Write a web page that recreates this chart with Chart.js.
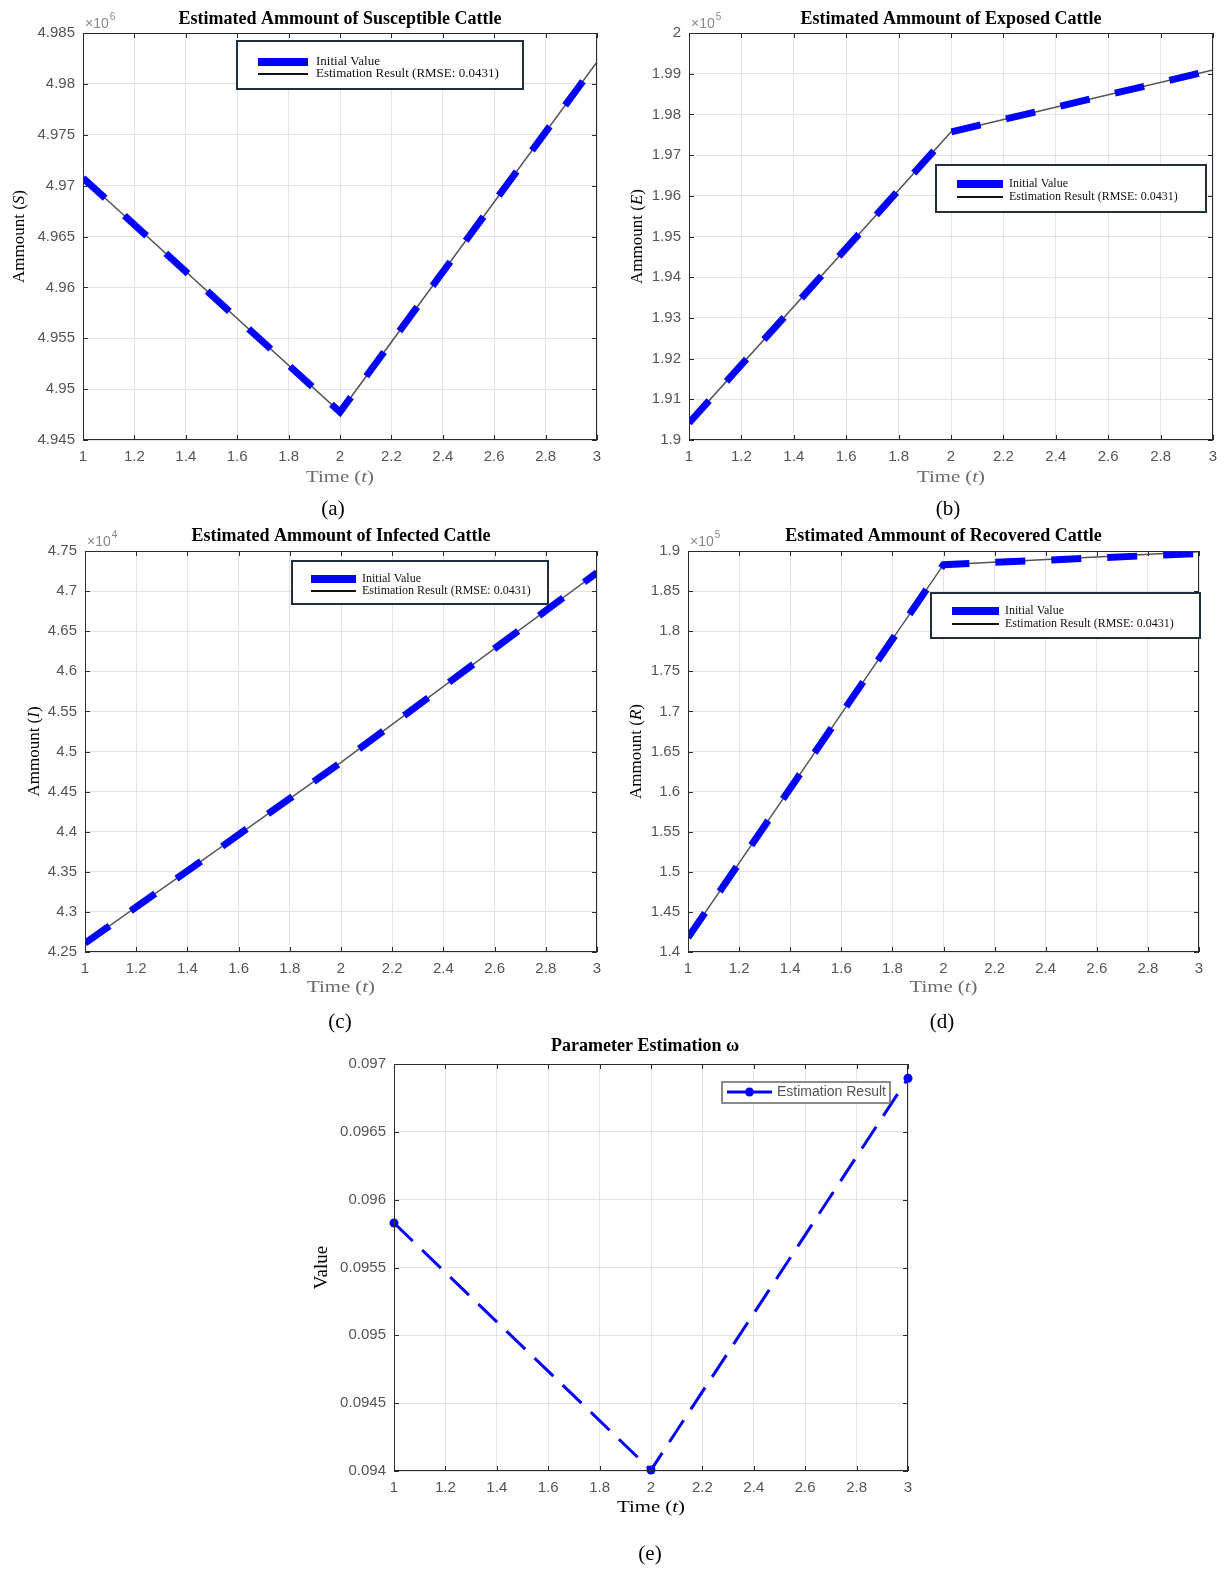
<!DOCTYPE html>
<html>
<head>
<meta charset="utf-8">
<script src="https://cdn.jsdelivr.net/npm/chart.js@4.4.1/dist/chart.umd.min.js"></script>
<style>
  body { margin: 0; background: #fff; width: 1227px; height: 1571px; position: relative; overflow: hidden; }
  .panel { position: absolute; }
  .panel canvas { display: block; }
  .cap { position: absolute; font: 21px 'Liberation Serif', serif; color: #000; transform: translate(-50%, -50%); white-space: nowrap; }
</style>
</head>
<body>
<div class="panel" id="wrap-a"><canvas id="chart-a"></canvas></div>
<div class="panel" id="wrap-b"><canvas id="chart-b"></canvas></div>
<div class="panel" id="wrap-c"><canvas id="chart-c"></canvas></div>
<div class="panel" id="wrap-d"><canvas id="chart-d"></canvas></div>
<div class="panel" id="wrap-e"><canvas id="chart-e"></canvas></div>
<div class="cap" style="left:333px;top:508px">(a)</div>
<div class="cap" style="left:948px;top:508px">(b)</div>
<div class="cap" style="left:340px;top:1021px">(c)</div>
<div class="cap" style="left:942px;top:1021px">(d)</div>
<div class="cap" style="left:650px;top:1553px">(e)</div>
<script>
// values (three time steps)
const timeSteps = [1, 2, 3];
const susceptibleInitial = [4970750, 4947750, 4982150];
const susceptibleEstimated = [4970750, 4947750, 4982150];
const exposedInitial = [190420, 197570, 199090];
const exposedEstimated = [190420, 197570, 199090];
const infectedInitial = [42609, 44865, 47230];
const infectedEstimated = [42609, 44865, 47230];
const recoveredInitial = [141790, 188300, 189700];
const recoveredEstimated = [141790, 188300, 189900];
const omegaEstimated = [0.095828, 0.094007, 0.096895];

const legendLabels = ['Initial Value', 'Estimation Result (RMSE: 0.0431)'];
const omegaLabel = 'Estimation Result';

const BLUE = '#0000ff';
const Y_W = 60;
const X_H = 30;

function points(values) {
    return timeSteps.map((t, i) => ({ x: t, y: values[i] }));
}

// text made of plain and italic parts, centred on (cx, cy), optionally stretched sideways
function drawMixed(ctx, parts, cx, cy, size, color, stretch) {
    let total = 0;
    const widths = parts.map(([txt, it]) => {
        ctx.font = (it ? 'italic ' : '') + size + 'px "Liberation Serif"';
        const w = ctx.measureText(txt).width;
        total += w;
        return w;
    });
    ctx.save();
    ctx.translate(cx, cy);
    ctx.scale(stretch || 1, 1);
    let x = -total / 2;
    ctx.fillStyle = color;
    ctx.textAlign = 'left';
    ctx.textBaseline = 'middle';
    parts.forEach(([txt, it], i) => {
        ctx.font = (it ? 'italic ' : '') + size + 'px "Liberation Serif"';
        ctx.fillText(txt, x, 0);
        x += widths[i];
    });
    ctx.restore();
}

const panelDecor = {
    id: 'panelDecor',
    afterDraw(chart, args, o) {
        const { ctx, chartArea: a, scales: { x, y } } = chart;
        const ox = o.offset.x, oy = o.offset.y;
        ctx.save();

        // box and inward ticks
        ctx.strokeStyle = '#2b2b2b';
        ctx.lineWidth = 1;
        ctx.beginPath();
        x.ticks.forEach(t => {
            const px = Math.round(x.getPixelForValue(t.value)) + 0.5;
            ctx.moveTo(px, a.bottom); ctx.lineTo(px, a.bottom - 5);
            ctx.moveTo(px, a.top); ctx.lineTo(px, a.top + 5);
        });
        y.ticks.forEach(t => {
            const py = Math.round(y.getPixelForValue(t.value)) + 0.5;
            ctx.moveTo(a.left, py); ctx.lineTo(a.left + 5, py);
            ctx.moveTo(a.right, py); ctx.lineTo(a.right - 5, py);
        });
        ctx.stroke();
        ctx.strokeRect(Math.round(a.left) + 0.5, Math.round(a.top) + 0.5, Math.round(a.width) - 1, Math.round(a.height) - 1);

        // title
        ctx.fillStyle = '#000';
        ctx.textAlign = 'center';
        ctx.textBaseline = 'middle';
        ctx.font = 'bold 18px "Liberation Serif"';
        ctx.fillText(o.title, (a.left + a.right) / 2 + (o.titleDx || 0), a.top - o.titleGap);

        // exponent
        if (o.exponent) {
            ctx.fillStyle = '#888';
            ctx.textAlign = 'left';
            ctx.font = '14px "Liberation Sans"';
            ctx.fillText('\u00d710', a.left + 2, a.top - 9);
            const w = ctx.measureText('\u00d710').width;
            ctx.font = '10px "Liberation Sans"';
            ctx.fillText(o.exponent, a.left + 3 + w, a.top - 16);
        }

        // axis labels
        drawMixed(ctx, o.xLabel, (a.left + a.right) / 2, a.bottom + o.xLabelGap, 16, o.xLabelColor, 1.3);
        ctx.save();
        ctx.translate(a.left - o.yLabelGap, (a.top + a.bottom) / 2);
        ctx.rotate(-Math.PI / 2);
        drawMixed(ctx, o.yLabel, 0, 0, o.yLabelSize, '#000', 1);
        ctx.restore();

        // legend
        const L = o.legend;
        ctx.fillStyle = '#fff';
        ctx.fillRect(L.x - ox, L.y - oy, L.w, L.h);
        ctx.strokeStyle = L.border;
        ctx.lineWidth = L.borderWidth;
        ctx.strokeRect(L.x - ox, L.y - oy, L.w, L.h);
        chart.data.datasets.forEach((ds, i) => {
            const ry = L.rows[i] - oy;
            ctx.strokeStyle = ds.legendColor || ds.borderColor;
            ctx.lineWidth = ds.legendWidth || ds.borderWidth;
            ctx.setLineDash([]);
            ctx.beginPath();
            ctx.moveTo(L.sx1 - ox, ry);
            ctx.lineTo(L.sx2 - ox, ry);
            ctx.stroke();
            if (ds.pointRadius) {
                ctx.fillStyle = ds.borderColor;
                ctx.beginPath();
                ctx.arc((L.sx1 + L.sx2) / 2 - ox, ry, ds.pointRadius, 0, Math.PI * 2);
                ctx.fill();
            }
            ctx.fillStyle = L.textColor;
            ctx.textAlign = 'left';
            ctx.textBaseline = 'middle';
            ctx.font = L.font;
            ctx.fillText(ds.label, L.tx - ox, ry);
        });
        ctx.restore();
    }
};

function fmt(v, div, digits) {
    return String(Number((v / div).toFixed(digits)));
}

function makePanel(id, region, plot, yScale, datasets, decor) {
    const canvas = document.getElementById('chart-' + id);
    const wrap = document.getElementById('wrap-' + id);
    wrap.style.left = region.x + 'px';
    wrap.style.top = region.y + 'px';
    canvas.width = region.w;
    canvas.height = region.h;
    decor.offset = { x: region.x, y: region.y };

    return new Chart(canvas, {
        type: 'line',
        data: { datasets: datasets },
        options: {
            responsive: false,
            animation: false,
            layout: {
                padding: {
                    left: plot.l - region.x - Y_W,
                    top: plot.t - region.y,
                    right: region.x + region.w - plot.r,
                    bottom: region.y + region.h - plot.b - X_H
                }
            },
            scales: {
                x: {
                    type: 'linear',
                    min: 1,
                    max: 3,
                    border: { display: false },
                    grid: { color: '#e3e3e3', drawTicks: false },
                    ticks: {
                        stepSize: 0.2,
                        padding: 8,
                        maxRotation: 0,
                        autoSkip: false,
                        color: '#555',
                        font: { family: 'Liberation Sans', size: 15 },
                        callback: v => fmt(v, 1, 1)
                    },
                    afterFit: s => { s.height = X_H; }
                },
                y: {
                    min: yScale.min,
                    max: yScale.max,
                    border: { display: false },
                    grid: { color: '#e3e3e3', drawTicks: false },
                    ticks: {
                        stepSize: yScale.step,
                        padding: 8,
                        autoSkip: false,
                        color: '#555',
                        font: { family: 'Liberation Sans', size: 15 },
                        callback: v => fmt(v, yScale.div, yScale.digits)
                    },
                    afterFit: s => { s.width = Y_W; }
                }
            },
            plugins: {
                legend: { display: false },
                tooltip: { enabled: false },
                panelDecor: decor
            }
        },
        plugins: [panelDecor]
    });
}

function cattleDatasets(initial, estimated) {
    return [
        {
            label: legendLabels[0],
            data: points(initial),
            borderColor: BLUE,
            borderWidth: 7,
            borderDash: [30, 26],
            borderCapStyle: 'butt',
            pointRadius: 0,
            tension: 0,
            clip: 0,
            order: 0,
            legendWidth: 8
        },
        {
            label: legendLabels[1],
            data: points(estimated),
            borderColor: '#555',
            borderWidth: 1.5,
            pointRadius: 0,
            tension: 0,
            clip: 0,
            order: 1,
            legendColor: '#111',
            legendWidth: 2
        }
    ];
}

function serifLegend(x, y, w, h, rows, sx1, sx2, tx, size) {
    return {
        x, y, w, h, rows, sx1, sx2, tx,
        border: '#1f2f40', borderWidth: 2,
        textColor: '#111',
        font: size + 'px "Liberation Serif"'
    };
}

const timeLabel = [['Time (', false], ['t', true], [')', false]];

makePanel('a',
    { x: 0, y: 0, w: 613, h: 520 },
    { l: 83, t: 33, r: 597, b: 440 },
    { min: 4945000, max: 4985000, step: 5000, div: 1e6, digits: 3 },
    cattleDatasets(susceptibleInitial, susceptibleEstimated),
    {
        title: 'Estimated Ammount of Susceptible Cattle', titleGap: 14, exponent: '6',
        yLabel: [['Ammount (', false], ['S', true], [')', false]], yLabelGap: 63, yLabelSize: 17,
        xLabel: timeLabel, xLabelGap: 38, xLabelColor: '#6a6a6a',
        legend: serifLegend(237, 41, 286, 48, [62, 74], 258, 308, 316, 13)
    });

makePanel('b',
    { x: 613, y: 0, w: 614, h: 520 },
    { l: 689, t: 33, r: 1213, b: 440 },
    { min: 190000, max: 200000, step: 1000, div: 1e5, digits: 2 },
    cattleDatasets(exposedInitial, exposedEstimated),
    {
        title: 'Estimated Ammount of Exposed Cattle', titleGap: 14, exponent: '5',
        yLabel: [['Ammount (', false], ['E', true], [')', false]], yLabelGap: 51, yLabelSize: 17,
        xLabel: timeLabel, xLabelGap: 38, xLabelColor: '#6a6a6a',
        legend: serifLegend(936, 165, 270, 47, [184, 197], 957, 1003, 1009, 12)
    });

makePanel('c',
    { x: 0, y: 520, w: 613, h: 520 },
    { l: 85, t: 551, r: 597, b: 952 },
    { min: 42500, max: 47500, step: 500, div: 1e4, digits: 2 },
    cattleDatasets(infectedInitial, infectedEstimated),
    {
        title: 'Estimated Ammount of Infected Cattle', titleGap: 15, exponent: '4',
        yLabel: [['Ammount (', false], ['I', true], [')', false]], yLabelGap: 50, yLabelSize: 17,
        xLabel: timeLabel, xLabelGap: 36, xLabelColor: '#6a6a6a',
        legend: serifLegend(292, 561, 256, 43, [579, 591], 311, 356, 362, 12)
    });

makePanel('d',
    { x: 613, y: 520, w: 614, h: 520 },
    { l: 688, t: 551, r: 1199, b: 952 },
    { min: 140000, max: 190000, step: 5000, div: 1e5, digits: 2 },
    cattleDatasets(recoveredInitial, recoveredEstimated),
    {
        title: 'Estimated Ammount of Recovered Cattle', titleGap: 15, exponent: '5',
        yLabel: [['Ammount (', false], ['R', true], [')', false]], yLabelGap: 51, yLabelSize: 17,
        xLabel: timeLabel, xLabelGap: 36, xLabelColor: '#6a6a6a',
        legend: serifLegend(931, 593, 269, 45, [611, 624], 952, 999, 1005, 12)
    });

makePanel('e',
    { x: 300, y: 1028, w: 640, h: 543 },
    { l: 394, t: 1064, r: 908, b: 1471 },
    { min: 0.094, max: 0.097, step: 0.0005, div: 1, digits: 4 },
    [{
        label: omegaLabel,
        data: points(omegaEstimated),
        borderColor: BLUE,
        backgroundColor: BLUE,
        borderWidth: 3,
        borderDash: [26, 13],
        borderCapStyle: 'butt',
        pointRadius: 4.5,
        pointBackgroundColor: BLUE,
        pointBorderWidth: 0,
        tension: 0,
        clip: false
    }],
    {
        title: 'Parameter Estimation \u03c9', titleGap: 18, titleDx: -6, exponent: null,
        yLabel: [['Value', false]], yLabelGap: 72, yLabelSize: 19,
        xLabel: timeLabel, xLabelGap: 37, xLabelColor: '#000',
        legend: {
            x: 722, y: 1082, w: 168, h: 21, rows: [1092], sx1: 727, sx2: 772, tx: 777,
            border: '#666', borderWidth: 1.5, textColor: '#555',
            font: '14px "Liberation Sans"'
        }
    });
</script>
</body>
</html>
